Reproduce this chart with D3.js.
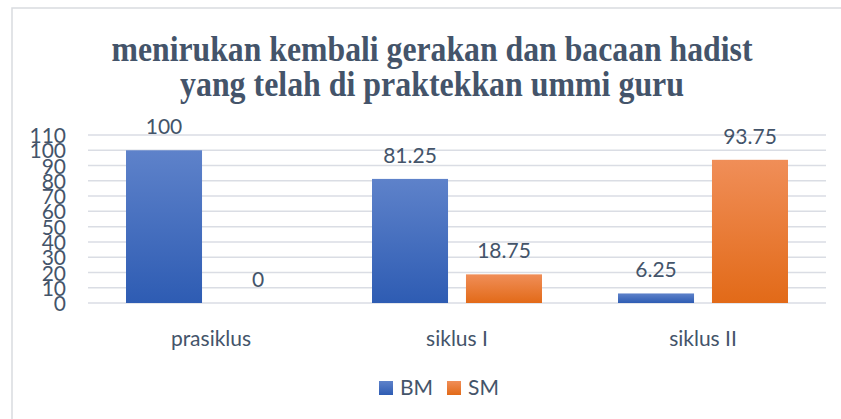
<!DOCTYPE html>
<html>
<head>
<meta charset="utf-8">
<script src="https://cdn.jsdelivr.net/npm/d3@7"></script>
<style>
  html, body { margin: 0; padding: 0; background: #fff; }
  svg { display: block; }
</style>
</head>
<body>
<div id="chart"></div>
<script>
// data
const categories = ['prasiklus', 'siklus I', 'siklus II'];
const seriesNames = ['BM', 'SM'];
const bmValues = [100, 81.25, 6.25];
const smValues = [0, 18.75, 93.75];
const yTicks = [0, 10, 20, 30, 40, 50, 60, 70, 80, 90, 100, 110];
const titleLines = ['menirukan kembali gerakan dan bacaan hadist', 'yang telah di praktekkan ummi guru'];

const W = 841, H = 419;
const textColor = '#44546a';
const fontSans = 'Lato, "Open Sans", sans-serif';

const svg = d3.select('#chart').append('svg')
  .attr('width', W).attr('height', H);

// gradients
const defs = svg.append('defs');
const grads = [
  { id: 'gBM', top: '#5e82ca', bottom: '#2e5cb3' },
  { id: 'gSM', top: '#f08e58', bottom: '#e26a18' }
];
grads.forEach(g => {
  const lg = defs.append('linearGradient').attr('id', g.id)
    .attr('x1', 0).attr('y1', 0).attr('x2', 0).attr('y2', 1);
  lg.append('stop').attr('offset', '0%').attr('stop-color', g.top);
  lg.append('stop').attr('offset', '100%').attr('stop-color', g.bottom);
});
const fillOf = { BM: 'url(#gBM)', SM: 'url(#gSM)' };

// chart border (partly cut off)
svg.append('path')
  .attr('d', `M12,${H} L12,8 L${W},8`)
  .attr('fill', 'none').attr('stroke', '#d9dbe0').attr('stroke-width', 1.5);

// title
titleLines.forEach((t, i) => {
  svg.append('text')
    .attr('x', 432).attr('y', 61 + i * 35)
    .attr('text-anchor', 'middle')
    .attr('font-family', '"Liberation Serif", "Times New Roman", serif')
    .attr('font-weight', 'bold')
    .attr('font-size', 35)
    .attr('fill', textColor)
    .attr('textLength', i === 0 ? 641 : 504)
    .attr('lengthAdjust', 'spacingAndGlyphs')
    .text(t);
});

// scales
const x0 = d3.scaleBand().domain(categories).range([88, 826])
  .paddingInner(0.309).paddingOuter(0.1545);
const x1 = d3.scaleBand().domain(seriesNames).range([0, x0.bandwidth()])
  .paddingInner(0.191).paddingOuter(0);
const y = d3.scaleLinear().domain([0, 110]).range([303, 135]);

// gridlines
svg.append('g').selectAll('line').data(yTicks).enter().append('line')
  .attr('x1', 88).attr('x2', 826)
  .attr('y1', d => y(d)).attr('y2', d => y(d))
  .attr('stroke', '#dadde4').attr('stroke-width', 1.5);

// y axis labels (they overlap in the original too)
const yAxis = svg.append('g')
  .attr('transform', 'translate(66,0)')
  .call(d3.axisLeft(y).tickValues(yTicks).tickSize(0).tickPadding(0));
yAxis.select('.domain').remove();
yAxis.selectAll('text')
  .attr('font-family', fontSans).attr('font-size', 21)
  .attr('fill', textColor).attr('dy', '0.36em');

// bars
const rows = categories.map((c, i) => ({ cat: c, BM: bmValues[i], SM: smValues[i] }));
const groups = svg.append('g').selectAll('g').data(rows).enter().append('g')
  .attr('transform', d => `translate(${x0(d.cat)},0)`);

groups.selectAll('rect')
  .data(d => seriesNames.map(s => ({ s, v: d[s] })))
  .enter().append('rect')
  .attr('x', d => x1(d.s))
  .attr('width', x1.bandwidth())
  .attr('y', d => y(d.v))
  .attr('height', d => y(0) - y(d.v))
  .attr('fill', d => fillOf[d.s]);

// data labels
groups.selectAll('text')
  .data(d => seriesNames.map(s => ({ s, v: d[s] })))
  .enter().append('text')
  .attr('x', d => x1(d.s) + x1.bandwidth() / 2)
  .attr('y', d => y(d.v) - 16)
  .attr('text-anchor', 'middle')
  .attr('font-family', fontSans).attr('font-size', 21)
  .attr('fill', textColor)
  .text(d => d.v);

// category labels
svg.append('g').selectAll('text').data(categories).enter().append('text')
  .attr('x', d => x0(d) + x0.bandwidth() / 2)
  .attr('y', 346)
  .attr('text-anchor', 'middle')
  .attr('font-family', fontSans).attr('font-size', 21)
  .attr('fill', textColor)
  .text(d => d);

// legend
const legendX = [379, 447];
seriesNames.forEach((s, i) => {
  svg.append('rect')
    .attr('x', legendX[i]).attr('y', 381)
    .attr('width', 14).attr('height', 14)
    .attr('fill', fillOf[s]);
  svg.append('text')
    .attr('x', legendX[i] + 21).attr('y', 395)
    .attr('font-family', fontSans).attr('font-size', 21)
    .attr('fill', textColor)
    .text(s);
});
</script>
</body>
</html>
